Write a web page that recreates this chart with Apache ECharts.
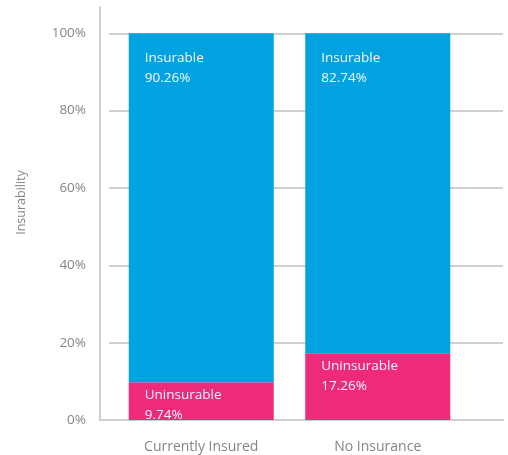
<!DOCTYPE html>
<html>
<head>
<meta charset="utf-8">
<script src="https://cdn.jsdelivr.net/npm/echarts@6/dist/echarts.min.js"></script>
<style>
  html, body { margin: 0; padding: 0; background: #fff; }
  #chart { width: 508px; height: 455px; }
</style>
</head>
<body>
<div id="chart"></div>
<script>
// Insurability by current insurance status (stacked to 100%)
const categories = ['Currently Insured', 'No Insurance'];
const uninsurable = [9.74, 17.26];
const insurable = [90.26, 82.74];
const yMin = 0, yMax = 100, yStep = 20;
const axisTitle = 'Insurability';

const FONT = '"Open Sans", sans-serif';
const GRAY_TEXT = '#858585';
const LINE = '#cfcfcf';
const BLUE = '#00a3e0';
const PINK = '#ee2a7b';

const chart = echarts.init(document.getElementById('chart'), null, { renderer: 'canvas' });

const barLabel = (dy) => ({
  show: true,
  position: 'insideTopLeft',
  distance: 0,
  offset: [16, dy],
  color: '#f4f8fb',
  fontFamily: FONT,
  fontSize: 13.5,
  lineHeight: 20,
  formatter: p => p.seriesName + '\n' + p.value.toFixed(2) + '%'
});

chart.setOption({
  animation: false,
  grid: [
    // frame: left axis line and baseline
    { left: 100, right: 5, top: 7, bottom: 35 },
    // horizontal gridlines
    { left: 109, right: 5, top: 33.3, bottom: 35 },
    // bars
    { left: 113, width: 353, top: 33.3, bottom: 35 }
  ],
  xAxis: [
    { gridIndex: 0, type: 'value', min: 0, max: 1,
      axisLine: { show: true, onZero: false, lineStyle: { color: LINE, width: 2 } },
      axisTick: { show: false }, axisLabel: { show: false }, splitLine: { show: false } },
    { gridIndex: 1, type: 'value', min: 0, max: 1, show: false },
    { gridIndex: 2, type: 'category', data: categories,
      axisLine: { show: false }, axisTick: { show: false },
      axisLabel: { color: GRAY_TEXT, fontFamily: FONT, fontSize: 14, margin: 20 } }
  ],
  yAxis: [
    { gridIndex: 0, type: 'value', min: 0, max: 1,
      axisLine: { show: true, lineStyle: { color: LINE, width: 2 } },
      axisTick: { show: false }, axisLabel: { show: false }, splitLine: { show: false } },
    { gridIndex: 1, type: 'value', min: yMin, max: yMax, interval: yStep,
      axisLine: { show: false }, axisTick: { show: false }, axisLabel: { show: false },
      splitLine: { show: true, lineStyle: { color: LINE, width: 2 } } },
    { gridIndex: 2, type: 'value', min: yMin, max: yMax, interval: yStep,
      axisLine: { show: false }, axisTick: { show: false }, splitLine: { show: false },
      axisLabel: { color: GRAY_TEXT, fontFamily: FONT, fontSize: 13.5, margin: 27,
                   formatter: '{value}%' } }
  ],
  graphic: [{
    type: 'text',
    x: 21, y: 202.5,
    rotation: Math.PI / 2,
    style: {
      text: axisTitle,
      fill: GRAY_TEXT,
      font: '12.5px ' + FONT,
      align: 'center',
      verticalAlign: 'middle'
    }
  }],
  series: [
    { name: 'Uninsurable', type: 'bar', stack: 'share', xAxisIndex: 2, yAxisIndex: 2,
      data: uninsurable, barWidth: 145, itemStyle: { color: PINK },
      label: barLabel(3) },
    { name: 'Insurable', type: 'bar', stack: 'share', xAxisIndex: 2, yAxisIndex: 2,
      data: insurable, barWidth: 145, itemStyle: { color: BLUE },
      label: barLabel(15) }
  ]
});
</script>
</body>
</html>
